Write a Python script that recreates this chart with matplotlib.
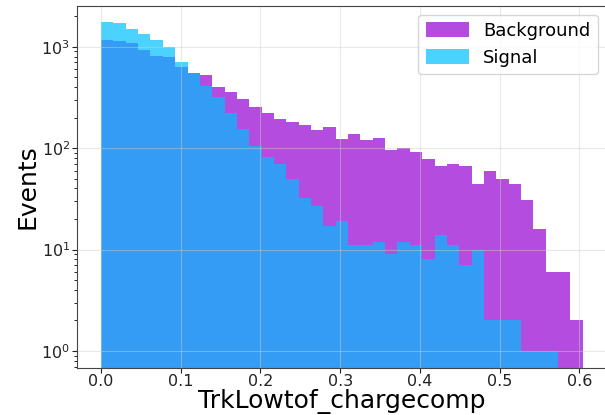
import numpy as np
import matplotlib
matplotlib.use("Agg")
import matplotlib.pyplot as plt

# bin edges of the histogram (39 equal bins)
edges = np.linspace(0.0, 0.6044, 40)

# counts per bin
background = [1167, 1140, 1083, 930, 811, 798, 637, 555, 523, 399,
              361, 304, 253, 221, 193, 179, 168, 151, 162, 123,
              137, 120, 125, 95, 100, 92, 78, 66, 69, 67,
              44, 60, 50, 44, 31, 16, 6, 6, 2]
signal = [1768, 1717, 1487, 1337, 1167, 989, 703, 545, 413, 318,
          224, 154, 105, 82, 70, 50, 32, 27, 17, 19,
          11, 11, 12, 9, 12, 11, 8, 14, 11, 7,
          10, 2, 2, 2, 1, 1, 1, 0, 0]

centers = 0.5 * (edges[:-1] + edges[1:])

fig = plt.figure(figsize=(6.05, 4.15), dpi=100)
ax = fig.add_axes([77 / 605, 47.5 / 415, 529.8 / 605, 361.8 / 415])

ax.hist(centers, bins=edges, weights=background, histtype="stepfilled",
        color="darkviolet", alpha=0.7, label="Background")
ax.hist(centers, bins=edges, weights=signal, histtype="stepfilled",
        color="deepskyblue", alpha=0.7, label="Signal")

ax.set_yscale("log")
ax.set_ylim(0.687, 2535)
ax.set_xticks([0.0, 0.1, 0.2, 0.3, 0.4, 0.5, 0.6])

ax.grid(True, color="#cccccc", linewidth=0.8, alpha=0.45)
for s in ax.spines.values():
    s.set_color("#444444")
ax.tick_params(labelsize=11.5, colors="#222222", pad=1.5)

ax.set_xlabel("TrkLowtof_chargecomp", fontsize=18, labelpad=0)
ax.set_ylabel("Events", fontsize=18, labelpad=1)
ax.legend(loc="upper right", fontsize=13, handlelength=2.4, handleheight=0.9)

fig.savefig("out.png", dpi=100)
